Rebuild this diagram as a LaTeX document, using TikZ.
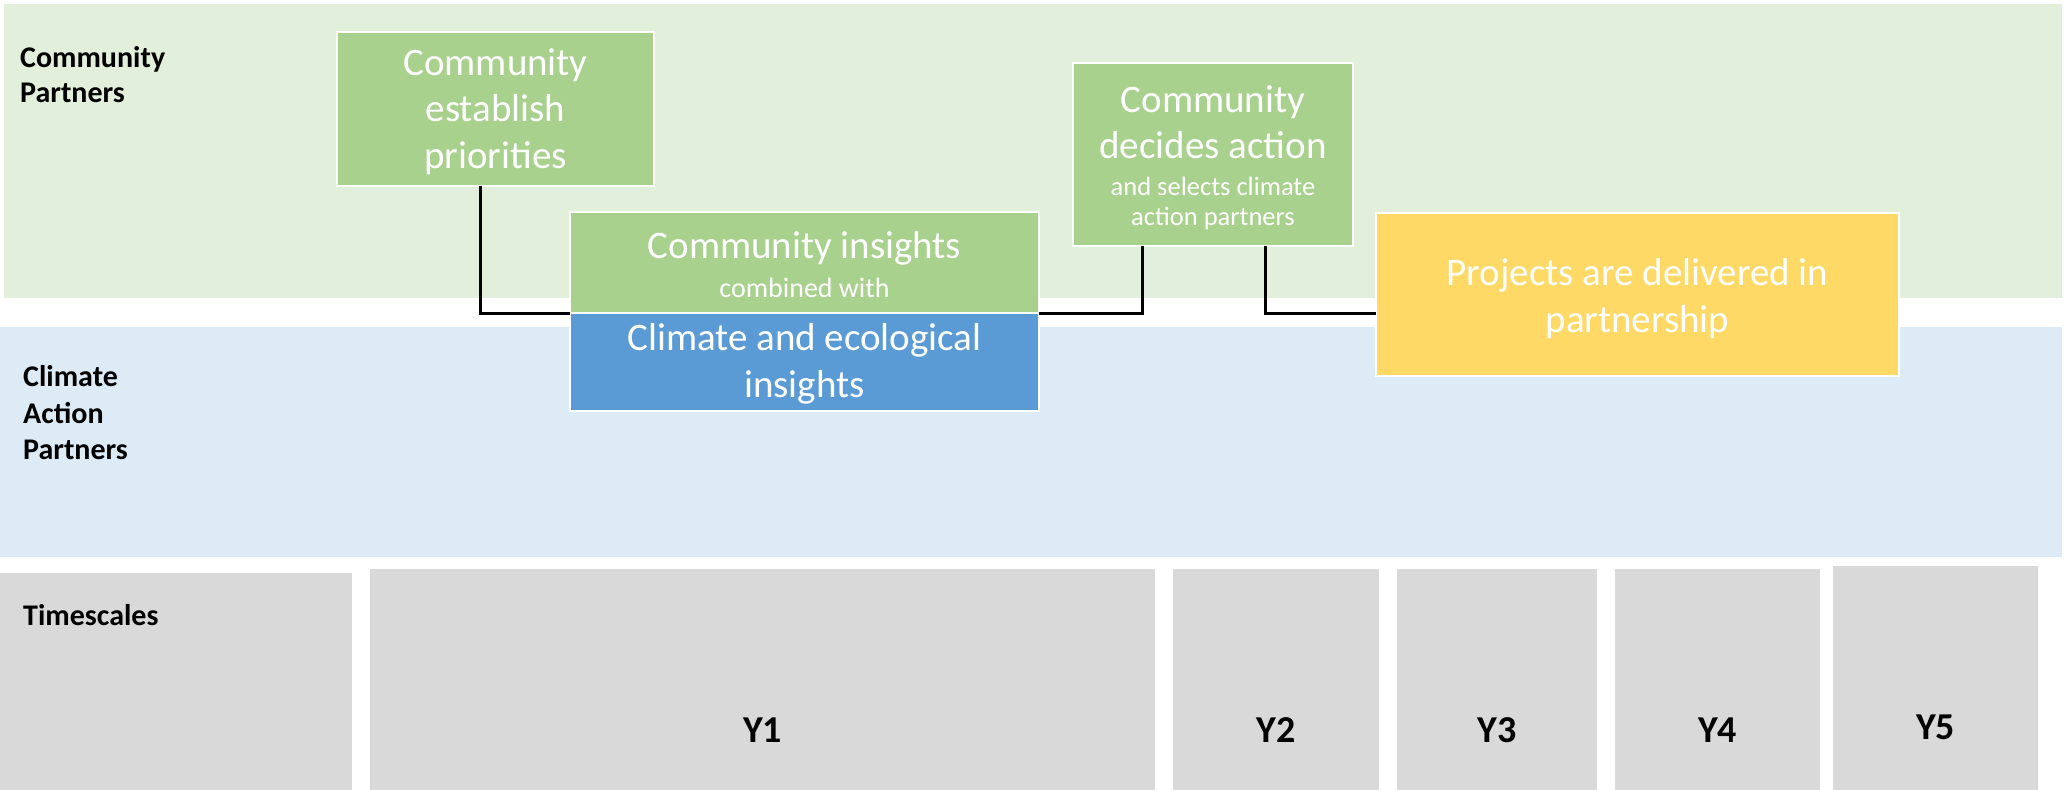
\documentclass[tikz,border=0pt]{standalone}
\usepackage{fontspec}
\setmainfont{Carlito}
\definecolor{bandgreen}{HTML}{E2EFDA}
\definecolor{bandblue}{HTML}{DDEBF7}
\definecolor{tsgray}{HTML}{D9D9D9}
\definecolor{boxgreen}{HTML}{A9D18E}
\definecolor{boxblue}{HTML}{5B9BD5}
\definecolor{boxyellow}{HTML}{FFD966}
\begin{document}
\begin{tikzpicture}[x=1pt,y=-1pt,
  box/.style={draw=white, line width=2pt, inner sep=0pt, outer sep=0pt, anchor=north west,
              text=white, align=center, text depth=0pt, font=\fontsize{39}{46.5}\selectfont},
  conn/.style={draw=black, line width=3pt},
  cat/.style={font=\bfseries\fontsize{30}{36}\selectfont, align=left, anchor=base west, inner sep=0pt},
  yr/.style={font=\bfseries\fontsize{38}{46}\selectfont, anchor=base, inner sep=0pt},
  tsbox/.style={fill=tsgray, draw=none, inner sep=0pt, outer sep=0pt, anchor=north west}]
\useasboundingbox (0,0) rectangle (2065,790);
\fill[white] (0,0) rectangle (2065,790);
% bands
\fill[bandgreen] (4,4) rectangle (2062,298);
\fill[bandblue] (0,327) rectangle (2062,557);
% category labels
\node[cat] (lcp) at (20,102) {Community\\[-1pt]Partners};
\node[cat] (lcap) at (23,459) {Climate\\[1pt]Action\\Partners};
% timescale boxes
\node[tsbox, minimum width=352pt, minimum height=217pt] (ts) at (0,573) {};
\node[tsbox, minimum width=785pt, minimum height=221pt] (y1) at (370,569) {};
\node[tsbox, minimum width=206pt, minimum height=221pt] (y2) at (1173,569) {};
\node[tsbox, minimum width=200pt, minimum height=221pt] (y3) at (1397,569) {};
\node[tsbox, minimum width=205pt, minimum height=221pt] (y4) at (1615,569) {};
\node[tsbox, minimum width=205pt, minimum height=224pt] (y5) at (1833,566) {};
\node[cat, anchor=base west] (lts) at (23,625) {Timescales};
\coordinate (yb) at (0,742);
\coordinate (yb5) at (0,739);
\node[yr] (ly1) at (y1 |- yb) {Y1};
\node[yr] (ly2) at (y2 |- yb) {Y2};
\node[yr] (ly3) at (y3 |- yb) {Y3};
\node[yr] (ly4) at (y4 |- yb) {Y4};
\node[yr] (ly5) at (y5 |- yb5) {Y5};
% process boxes (text height = 2 x (last baseline - box centre))
\node[box, fill=boxgreen, minimum width=317pt, minimum height=154pt, text height=118pt] (a) at (337,32)
  {Community\\establish\\priorities};
\node[box, fill=boxgreen, minimum width=469pt, minimum height=101pt, text height=69pt] (b) at (570,212)
  {Community insights\\[-7.5pt]{\fontsize{28}{34}\selectfont combined with}};
\node[box, fill=boxblue, minimum width=469pt, minimum height=98pt, text height=70pt] (bb) at (570,313)
  {Climate and ecological\\[0.5pt]insights};
\node[box, fill=boxgreen, minimum width=280pt, minimum height=183pt, text height=142pt] (c) at (1073,63)
  {Community\\[-0.5pt]decides action\\[-9.5pt]{\fontsize{26.5}{30}\selectfont and selects climate}\\[-16pt]{\fontsize{26.5}{30}\selectfont action partners}};
\node[box, fill=boxyellow, minimum width=523pt, minimum height=163pt, text height=76pt] (d) at (1376,213)
  {Projects are delivered in\\[0.5pt]partnership};
% connectors
\draw[conn] ([xshift=143pt]a.south west) |- (b.south west);
\draw[conn] (b.south east) -| ([xshift=69pt]c.south west);
\draw[conn] ([xshift=192pt]c.south west) |- (d.west |- b.south);
\end{tikzpicture}
\end{document}
